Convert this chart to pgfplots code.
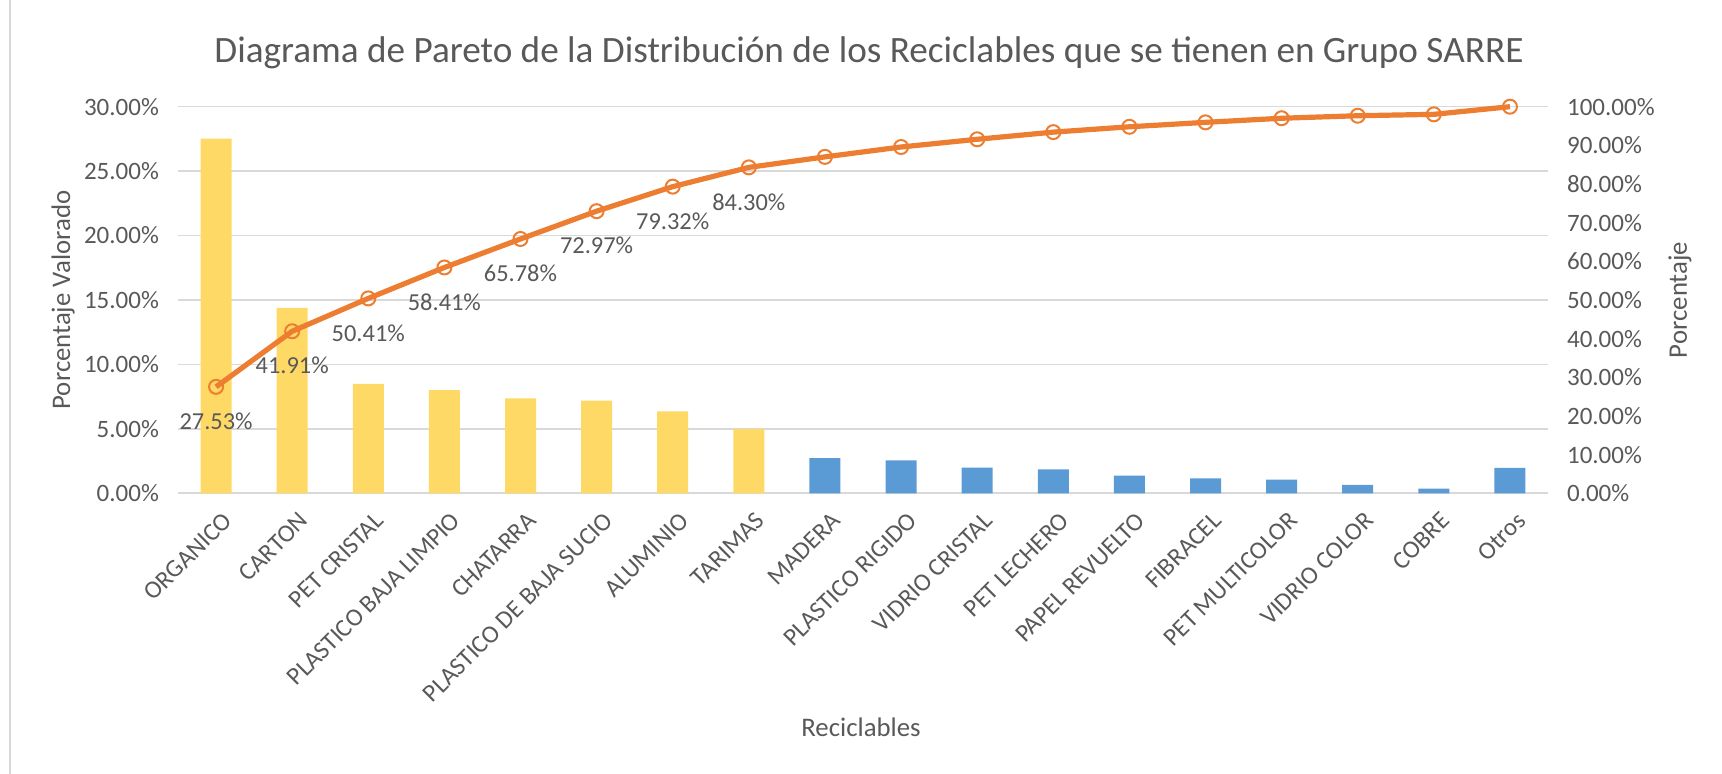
\documentclass[border=0pt]{standalone}
\usepackage{pgfplots}
\pgfplotsset{compat=1.18}
\usepackage{fontspec}
\setmainfont{Carlito}
\definecolor{bary}{HTML}{FFD966}
\definecolor{barb}{HTML}{5B9BD5}
\definecolor{lino}{HTML}{ED7D31}
\definecolor{txt}{HTML}{595959}
\definecolor{grd}{HTML}{D9D9D9}
\newcommand{\tfont}{\fontsize{12.5}{14}\selectfont}
\begin{document}
\begin{tikzpicture}[x=1pt,y=1pt]
\path[use as bounding box] (0,0) rectangle (861,387);
\draw[grd, line width=1pt] (5,0) -- (5,387);
\pgfplotsset{
  common/.style={
    at={(89pt,140.35pt)}, anchor=south west,
    scale only axis, width=685pt, height=193.3pt,
    xmin=-0.5, xmax=17.5,
    tick style={draw=none},
    ticklabel style={font=\tfont, text=txt},
    /pgf/number format/assume math mode=true,
  }
}
\begin{axis}[common,
  ybar, ymin=0, ymax=30,
  axis line style={draw=none},
  ytick={0,5,...,30},
  ymajorgrids, major grid style={grd, line width=0.8pt},
  yticklabel={\pgfmathprintnumber[fixed,fixed zerofill,precision=2]{\tick}\%},
  yticklabel style={xshift=-6pt},
  xtick={0,...,17},
  xticklabels={ORGANICO,CARTON,PET CRISTAL,PLASTICO BAJA LIMPIO,CHATARRA,PLASTICO DE BAJA SUCIO,ALUMINIO,TARIMAS,MADERA,PLASTICO RIGIDO,VIDRIO CRISTAL,PET LECHERO,PAPEL REVUELTO,FIBRACEL,PET MULTICOLOR,VIDRIO COLOR,COBRE,Otros},
  x tick label style={rotate=45, anchor=north east, inner sep=1pt, yshift=-4pt},
  clip=false,
]
\addplot[fill=bary, draw=none, bar width=15.5pt, bar shift=0pt] coordinates {
 (0,27.53) (1,14.38) (2,8.50) (3,8.00) (4,7.37) (5,7.19) (6,6.35) (7,4.98)};
\addplot[fill=barb, draw=none, bar width=15.5pt, bar shift=0pt] coordinates {
 (8,2.72) (9,2.55) (10,2.00) (11,1.85) (12,1.38) (13,1.15) (14,1.06) (15,0.65) (16,0.36) (17,1.98)};
\end{axis}
\begin{axis}[common,
  ymin=0, ymax=100,
  axis x line=none,
  axis y line*=right,
  axis line style={draw=none},
  ytick={0,10,...,100},
  yticklabel={\pgfmathprintnumber[fixed,fixed zerofill,precision=2]{\tick}\%},
  yticklabel style={xshift=6pt},
  clip=false,
]
\addplot[lino, line width=2.6pt, mark=o, mark size=3.5pt, mark options={line width=1pt, fill=none, solid}] coordinates {
 (0,27.53) (1,41.91) (2,50.41) (3,58.41) (4,65.78) (5,72.97) (6,79.32) (7,84.30)
 (8,87.02) (9,89.57) (10,91.57) (11,93.42) (12,94.80) (13,95.95) (14,97.01) (15,97.66) (16,98.02) (17,100.00)};
\addplot[draw=none, mark=none, nodes near coords={\pgfmathprintnumber[fixed,fixed zerofill,precision=2]{\pgfplotspointmeta}\%},
  point meta=y,
  every node near coord/.append style={font=\fontsize{12.2}{14}\selectfont, text=txt, anchor=center, yshift=-17.2pt}] coordinates {
 (0,27.53) (1,41.91) (2,50.41) (3,58.41) (4,65.78) (5,72.97) (6,79.32) (7,84.30)};
\end{axis}
\node[font=\fontsize{18.6}{21}\selectfont, text=txt] at (434.5,360.5) {Diagrama de Pareto de la Distribución de los Reciclables que se tienen en Grupo SARRE};
\node[font=\fontsize{13.4}{15}\selectfont, text=txt, rotate=90] at (31.5,237) {Porcentaje Valorado};
\node[font=\fontsize{13.4}{15}\selectfont, text=txt, rotate=90] at (840,237) {Porcentaje};
\node[font=\fontsize{13.4}{15}\selectfont, text=txt] at (430.5,23.5) {Reciclables};
\end{tikzpicture}
\end{document}
